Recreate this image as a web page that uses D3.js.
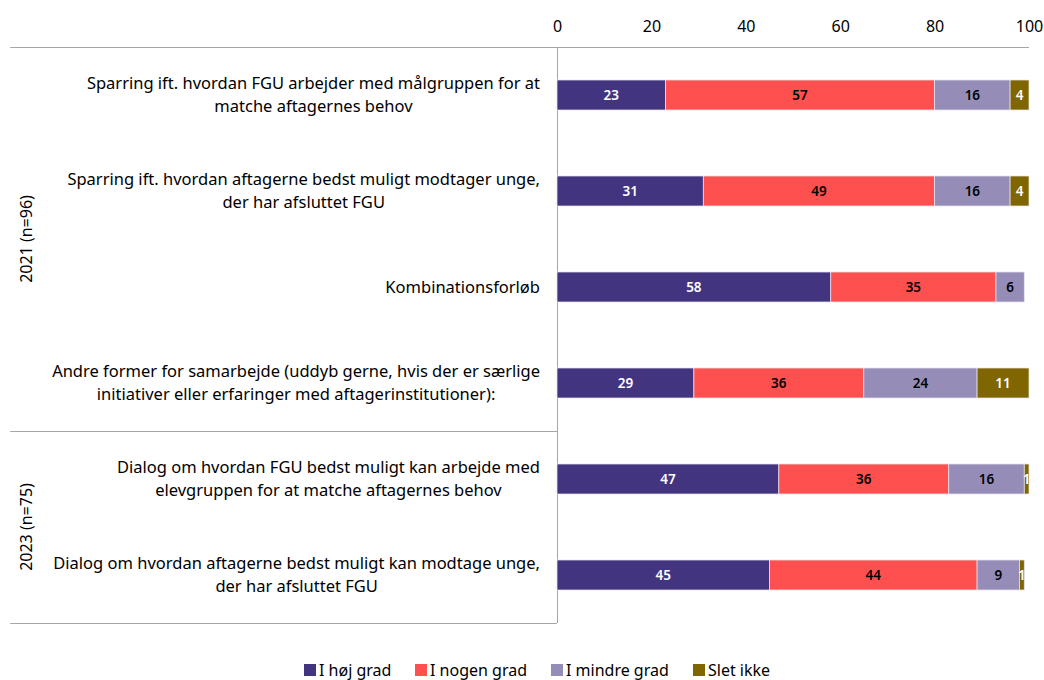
<!DOCTYPE html>
<html>
<head>
<meta charset="utf-8">
<style>
  body { margin: 0; background: #fff; }
  text { font-family: "Noto Sans", sans-serif; fill: #000; }
  .val { font-size: 13.5px; font-weight: 600; }
</style>
</head>
<body>
<script src="https://cdn.jsdelivr.net/npm/d3@7"></script>
<script>
// data
var questions = [
  ["Sparring ift. hvordan FGU arbejder med målgruppen for at", "matche aftagernes behov"],
  ["Sparring ift. hvordan aftagerne bedst muligt modtager unge,", "der har afsluttet FGU"],
  ["Kombinationsforløb"],
  ["Andre former for samarbejde (uddyb gerne, hvis der er særlige", "initiativer eller erfaringer med aftagerinstitutioner):"],
  ["Dialog om hvordan FGU bedst muligt kan arbejde med", "elevgruppen for at matche aftagernes behov"],
  ["Dialog om hvordan aftagerne bedst muligt kan modtage unge,", "der har afsluttet FGU"]
];
var series = ["I høj grad", "I nogen grad", "I mindre grad", "Slet ikke"];
var hoej   = [23, 31, 58, 29, 47, 45];
var nogen  = [57, 49, 35, 36, 36, 44];
var mindre = [16, 16, 6, 24, 16, 9];
var slet   = [4, 4, 0, 11, 1, 1];
var groups = ["2021 (n=96)", "2023 (n=75)"];
var groupSizes = [4, 2];
var ticks = [0, 20, 40, 60, 80, 100];

var colors = ["#433480", "#FF5050", "#958DB8", "#7F6600"];
var textColors = ["#fff", "#000", "#000", "#fff"];

var W = 1044, H = 680;
var svg = d3.select("body").append("svg").attr("width", W).attr("height", H);

var x = d3.scaleLinear().domain([0, 100]).range([557, 1029]);
var y = d3.scaleBand().domain(d3.range(questions.length)).range([47, 623]).paddingInner(0.6875).paddingOuter(0.34375);

var rows = questions.map(function (q, i) {
  return { i: i, vals: [hoej[i], nogen[i], mindre[i], slet[i]] };
});

// top axis
var axis = svg.append("g").attr("transform", "translate(0,47)")
  .call(d3.axisTop(x).tickValues(ticks).tickSize(0).tickPadding(15));
axis.select(".domain").remove();
axis.selectAll("text").style("font-size", "16px").style("font-family", "'Noto Sans', sans-serif").attr("fill", "#000");

// frame lines
var lineColor = "#a6a6a6";
svg.append("line").attr("x1", 10).attr("x2", 1029).attr("y1", 47.5).attr("y2", 47.5).attr("stroke", lineColor);
svg.append("line").attr("x1", 557.5).attr("x2", 557.5).attr("y1", 47).attr("y2", 623).attr("stroke", lineColor);
var start = 0;
groupSizes.forEach(function (n, g) {
  var top = y(start) - y.step() * y.paddingOuter();
  var bottom = y(start + n - 1) + y.bandwidth() + y.step() * y.paddingOuter();
  svg.append("line").attr("x1", 10).attr("x2", 557).attr("y1", Math.round(bottom) + 0.5).attr("y2", Math.round(bottom) + 0.5).attr("stroke", lineColor);
  svg.append("text")
    .attr("transform", "translate(26," + ((top + bottom) / 2) + ") rotate(-90)")
    .attr("text-anchor", "middle").attr("dy", "0.35em")
    .style("font-size", "16px").text(groups[g]);
  start += n;
});

// category labels: block right-aligned at 540, lines centered within block
rows.forEach(function (r) {
  var lines = questions[r.i];
  var cy = y(r.i) + y.bandwidth() / 2;
  var g = svg.append("g");
  var ts = lines.map(function (l, k) {
    return g.append("text").style("font-size", "16.5px")
      .attr("text-anchor", "middle")
      .attr("y", cy + (k - (lines.length - 1) / 2) * 23)
      .attr("dy", "0.35em").text(l);
  });
  var maxW = d3.max(ts, function (t) { return t.node().getComputedTextLength(); });
  ts.forEach(function (t) { t.attr("x", 540 - maxW / 2); });
});

// bars
var bar = svg.append("g").selectAll("g").data(rows).enter().append("g");
bar.each(function (r) {
  var acc = 0;
  var sel = d3.select(this);
  r.vals.forEach(function (v, k) {
    if (v <= 0) { return; }
    var x0 = x(acc), x1 = x(acc + v);
    sel.append("rect")
      .attr("x", x0).attr("y", y(r.i))
      .attr("width", x1 - x0).attr("height", y.bandwidth())
      .attr("fill", colors[k]).attr("stroke", "#e6e3ef").attr("stroke-width", 0.75);
    sel.append("text").attr("class", "val")
      .attr("x", (x0 + x1) / 2).attr("y", y(r.i) + y.bandwidth() / 2)
      .attr("dy", "0.35em").attr("text-anchor", "middle")
      .style("fill", textColors[k]).text(v);
    acc += v;
  });
});

// legend
var legX = [304, 415, 551, 693];
var leg = svg.append("g").selectAll("g").data(series).enter().append("g")
  .attr("transform", function (d, i) { return "translate(" + legX[i] + ",670)"; });
leg.append("rect").attr("x", 0).attr("y", -6).attr("width", 12).attr("height", 12)
  .attr("fill", function (d, i) { return colors[i]; });
leg.append("text").attr("x", 15).attr("dy", "0.35em").style("font-size", "16px").text(function (d) { return d; });
</script>
</body>
</html>
